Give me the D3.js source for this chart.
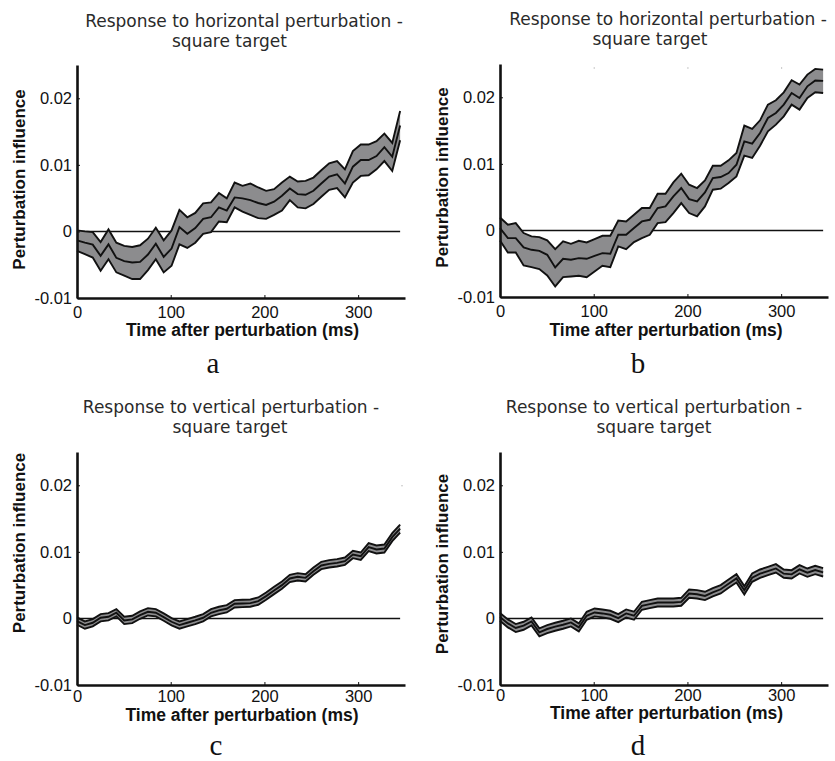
<!DOCTYPE html>
<html>
<head>
<meta charset="utf-8">
<script src="https://cdn.jsdelivr.net/npm/d3@7"></script>
<style>
  html, body { margin: 0; padding: 0; background: #ffffff; }
  svg { display: block; }
</style>
</head>
<body>
<svg id="chart" width="835" height="761"></svg>
<script>
// Values below are in units of 0.001 (perturbation influence)
const UNIT = 0.001;

// Sample times after perturbation onset (ms)
const timeMs = [0, 8.4, 16.8, 25.2, 33.6, 42.0, 50.4, 58.9, 67.3, 75.7, 84.1, 92.5, 100.9, 109.3,
  117.7, 126.2, 134.6, 143.0, 151.4, 159.8, 168.2, 176.6, 185.0, 193.4, 201.8, 210.3, 218.7,
  227.1, 235.5, 243.9, 252.3, 260.7, 269.1, 277.5, 285.9, 294.4, 302.8, 311.2, 319.6, 328.0,
  336.4, 344.8];

// a: horizontal perturbation (first condition)
const meanA  = [-1.34,-1.69,-1.99,-3.67,-1.94,-3.97,-4.47,-4.67,-4.57,-3.47,-1.84,-3.82,-2.58,0.65,-0.35,0.50,1.89,2.13,3.62,3.13,5.11,4.96,4.71,4.27,3.97,4.47,5.36,6.45,5.61,5.51,6.10,7.20,8.24,8.59,7.20,9.73,10.72,10.72,11.32,12.66,11.22,15.9];
const upperA = [0.15,0,-0.10,-1.59,0.30,-1.69,-2.18,-2.33,-2.08,-1.09,0.55,-1.34,0.15,3.23,2.13,2.78,4.22,4.37,5.76,4.96,7.34,6.85,7.20,6.60,6.10,6.35,7.34,8.24,7.49,7.59,8.09,9.18,10.22,10.57,9.33,12.06,13.05,13.05,13.55,14.69,13.30,18.1];
const lowerA = [-2.93,-3.42,-3.92,-5.91,-4.17,-6.15,-6.65,-7.15,-7.15,-5.81,-4.17,-6.15,-5.16,-1.94,-2.48,-1.69,-0.35,-0.10,1.49,1.39,3.62,2.98,2.48,1.99,1.89,2.48,3.13,4.71,3.62,3.47,4.12,5.21,6.25,6.50,5.11,7.34,8.34,8.44,9.33,10.57,9.08,13.7];

// b: horizontal perturbation (second condition)
const meanB  = [0.35,-1.15,-1.15,-2.56,-2.91,-3.06,-3.66,-5.56,-4.26,-4.41,-4.16,-4.26,-3.81,-3.41,-3.51,-0.65,-0.65,0.35,1.35,1.60,3.36,3.61,5.11,6.37,4.71,4.36,5.71,7.87,8.02,8.62,9.87,13.38,13.03,14.64,16.89,17.64,18.90,20.65,19.90,21.65,22.51,22.46];
const upperB = [1.95,0.85,1.10,-0.40,-0.90,-1.00,-1.50,-2.81,-1.65,-2.01,-1.55,-1.80,-1.30,-0.80,-0.80,1.50,1.35,2.36,3.36,3.36,5.51,5.51,7.22,8.52,6.87,6.37,7.52,9.72,9.72,10.53,11.63,15.74,15.24,16.54,18.90,19.55,20.75,22.56,21.90,23.41,24.26,24.16];
const lowerB = [-1.50,-3.31,-3.31,-5.26,-5.51,-5.81,-6.77,-8.42,-7.02,-6.92,-6.82,-7.02,-6.17,-5.31,-5.51,-2.41,-2.81,-1.75,-1.15,-0.65,1.10,1.25,2.61,4.11,2.61,2.11,3.61,6.12,6.27,7.12,8.12,11.23,10.88,12.73,14.89,15.89,17.14,18.90,18.15,19.90,20.75,20.65];

// c: vertical perturbation (first condition)
const meanC  = [-0.40,-1.00,-0.65,0.10,0.25,0.85,-0.30,-0.15,0.50,1.00,0.85,0.20,-0.50,-1.00,-0.65,-0.30,0.10,0.85,1.20,1.45,2.20,2.25,2.30,2.60,3.35,4.20,5.00,6.00,6.25,6.10,7.10,7.95,8.20,8.35,8.60,9.60,9.35,10.70,10.35,10.50,12.20,13.50];
const upperC = [0.15,-0.45,-0.10,0.65,0.80,1.40,0.25,0.40,1.05,1.55,1.40,0.75,0.05,-0.45,-0.10,0.25,0.65,1.40,1.75,2.00,2.75,2.80,2.85,3.15,3.90,4.75,5.55,6.55,6.80,6.65,7.65,8.50,8.75,8.90,9.15,10.15,9.90,11.30,10.95,11.10,12.80,14.10];
const lowerC = [-0.95,-1.55,-1.20,-0.45,-0.30,0.30,-0.85,-0.70,-0.05,0.45,0.30,-0.35,-1.05,-1.55,-1.20,-0.85,-0.45,0.30,0.65,0.90,1.65,1.70,1.75,2.05,2.80,3.65,4.45,5.45,5.70,5.55,6.55,7.40,7.65,7.80,8.05,9.05,8.80,10.10,9.75,9.90,11.60,12.90];

// d: vertical perturbation (second condition)
const meanD  = [0.20,-0.75,-1.44,-1.09,-0.45,-2.09,-1.59,-1.24,-0.95,-0.60,-1.34,0.40,0.90,0.75,0.55,0.05,0.75,0.40,1.89,2.14,2.39,2.39,2.39,2.49,3.73,3.63,3.38,3.93,4.38,5.22,6.02,4.23,6.12,6.72,7.11,7.51,6.72,6.62,7.36,6.87,7.26,6.92];
const upperD = [0.80,-0.15,-0.85,-0.50,0.15,-1.50,-1.00,-0.65,-0.35,0.00,-0.75,1.00,1.50,1.35,1.15,0.65,1.35,1.00,2.50,2.75,3.00,3.00,3.00,3.10,4.35,4.25,4.00,4.55,5.00,5.85,6.65,4.85,6.75,7.35,7.75,8.15,7.35,7.25,8.00,7.50,7.90,7.55];
const lowerD = [-0.35,-1.35,-2.05,-1.70,-1.05,-2.70,-2.20,-1.85,-1.55,-1.20,-1.95,-0.20,0.30,0.15,-0.05,-0.55,0.15,-0.20,1.30,1.55,1.80,1.80,1.80,1.90,3.10,3.00,2.75,3.30,3.75,4.60,5.40,3.60,5.50,6.10,6.50,6.90,6.10,6.00,6.75,6.25,6.65,6.30];

// Axis ticks and labels
const xTicks = [0, 100, 200, 300];
const yTicks = [-0.01, 0, 0.01, 0.02];
const xDomain = [0, 350];
const yDomain = [-0.01, 0.025];
const xLabel = "Time after perturbation (ms)";
const yLabel = "Perturbation influence";
const titlesLine1 = ["Response to horizontal perturbation -", "Response to horizontal perturbation -",
                     "Response to vertical perturbation -", "Response to vertical perturbation -"];
const titleLine2 = "square target";
const panelLetters = ["a", "b", "c", "d"];

// Layout of the four panels
const panels = [
  { mean: meanA, upper: upperA, lower: lowerA, left: 77,  bottom: 298, t1: [244, 27],  t2: [229.5, 47], yl: [25, 179.5],  xl: [242.5, 336], letter: [213, 373], pad: 8.5 },
  { mean: meanB, upper: upperB, lower: lowerB, left: 500, bottom: 297, t1: [668, 25],  t2: [650, 45],   yl: [448, 177.5], xl: [666, 336],   letter: [638, 373], pad: 8.5, topTicks: true },
  { mean: meanC, upper: upperC, lower: lowerC, left: 77,  bottom: 685, t1: [231, 413], t2: [230, 433],  yl: [25, 543],    xl: [242, 721],   letter: [216, 755], pad: 5.5, rightTick: true },
  { mean: meanD, upper: upperD, lower: lowerD, left: 500, bottom: 685, t1: [654, 413], t2: [654, 433],  yl: [448, 564],   xl: [666.5, 719], letter: [638, 755], pad: 4.5 }
];
const PLOT_W = 328, PLOT_H = 233;
const BAND_FILL = "#8c8c8e";
const INK = "#111111";
const SANS = "'Liberation Sans', Arial, Helvetica, sans-serif";

const svg = d3.select("#chart");
const yFmt = d => d === 0 ? "0" : String(+d.toFixed(2));

panels.forEach((p, k) => {
  const x = d3.scaleLinear().domain(xDomain).range([p.left, p.left + PLOT_W]);
  const y = d3.scaleLinear().domain(yDomain).range([p.bottom, p.bottom - PLOT_H]);
  const g = svg.append("g");

  const rows = timeMs.map((t, i) => ({ t, m: p.mean[i], u: p.upper[i], l: p.lower[i] }));

  // zero reference line
  g.append("line")
    .attr("x1", x(0)).attr("x2", x(timeMs[timeMs.length - 1]))
    .attr("y1", y(0)).attr("y2", y(0))
    .attr("stroke", INK).attr("stroke-width", 1.5);

  // confidence band
  g.append("path").datum(rows)
    .attr("d", d3.area().x(d => x(d.t)).y0(d => y(d.l * UNIT)).y1(d => y(d.u * UNIT)))
    .attr("fill", BAND_FILL).attr("stroke", "none");

  // band edges and mean
  ["u", "l", "m"].forEach(key => {
    g.append("path").datum(rows)
      .attr("d", d3.line().x(d => x(d.t)).y(d => y(d[key] * UNIT)))
      .attr("fill", "none").attr("stroke", INK)
      .attr("stroke-width", 1.9).attr("stroke-linejoin", "miter");
  });

  // faint box ticks
  if (p.topTicks) {
    const gt = g.append("g").attr("transform", `translate(0,${p.bottom - PLOT_H + 3})`)
      .call(d3.axisTop(x).tickValues([100, 200, 300]).tickSizeInner(-2).tickSizeOuter(0).tickFormat(""));
    gt.select(".domain").remove();
    gt.selectAll("line").attr("stroke", "#c8c8c8").attr("stroke-width", 1);
  }
  if (p.rightTick) {
    const gr = g.append("g").attr("transform", `translate(${p.left + PLOT_W - 2},0)`)
      .call(d3.axisRight(y).tickValues([0.02]).tickSizeInner(-2).tickSizeOuter(0).tickFormat(""));
    gr.select(".domain").remove();
    gr.selectAll("line").attr("stroke", "#c8c8c8").attr("stroke-width", 1);
  }

  // x axis
  const gx = g.append("g").attr("transform", `translate(0,${p.bottom})`)
    .call(d3.axisBottom(x).tickValues(xTicks).tickSizeInner(-3).tickSizeOuter(0)
      .tickPadding(p.pad).tickFormat(d3.format("d")));
  // y axis
  const gy = g.append("g").attr("transform", `translate(${p.left},0)`)
    .call(d3.axisLeft(y).tickValues(yTicks).tickSizeInner(-3).tickSizeOuter(0)
      .tickPadding(5).tickFormat(yFmt));

  [gx, gy].forEach(ax => {
    ax.select(".domain").attr("stroke", INK).attr("stroke-width", 2.6);
    ax.selectAll(".tick line").attr("stroke", INK).attr("stroke-width", 1);
    ax.selectAll(".tick text").attr("fill", INK)
      .style("font-family", SANS).style("font-size", "16.5px");
  });

  // axis titles
  g.append("text")
    .attr("x", p.xl[0]).attr("y", p.xl[1])
    .attr("text-anchor", "middle")
    .style("font-family", SANS).style("font-size", "17.5px").style("font-weight", "bold")
    .attr("fill", INK).text(xLabel);
  g.append("text")
    .attr("transform", `translate(${p.yl[0]},${p.yl[1]}) rotate(-90)`)
    .attr("text-anchor", "middle")
    .style("font-family", SANS).style("font-size", "17px").style("font-weight", "bold")
    .attr("fill", INK).text(yLabel);

  // panel title (two lines)
  g.append("text")
    .attr("x", p.t1[0]).attr("y", p.t1[1]).attr("text-anchor", "middle")
    .style("font-family", "'DejaVu Sans', Verdana, sans-serif").style("font-size", "17px")
    .attr("fill", "#2a2a2a").text(titlesLine1[k]);
  g.append("text")
    .attr("x", p.t2[0]).attr("y", p.t2[1]).attr("text-anchor", "middle")
    .style("font-family", "'DejaVu Sans', Verdana, sans-serif").style("font-size", "17px")
    .attr("fill", "#2a2a2a").text(titleLine2);

  // panel letter
  g.append("text")
    .attr("x", p.letter[0]).attr("y", p.letter[1]).attr("text-anchor", "middle")
    .style("font-family", "'Liberation Serif', 'Times New Roman', serif").style("font-size", "29px")
    .attr("fill", INK).text(panelLetters[k]);
});
</script>
</body>
</html>
